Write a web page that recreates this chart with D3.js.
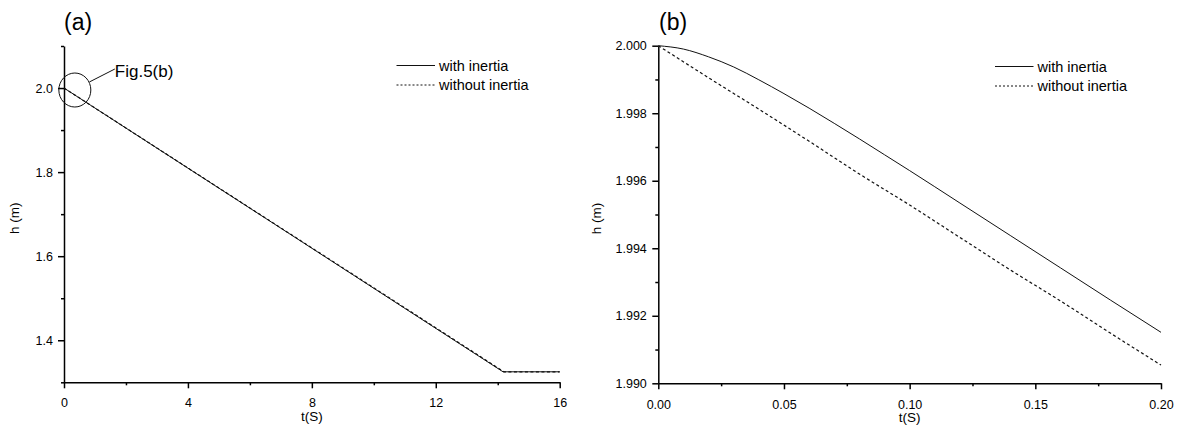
<!DOCTYPE html>
<html>
<head>
<meta charset="utf-8">
<script src="https://cdn.jsdelivr.net/npm/d3@7"></script>
<style>
  html, body { margin: 0; padding: 0; background: #fff; }
  svg { display: block; font-family: "Liberation Sans", Arial, sans-serif; }
  .domain { stroke: #000; stroke-width: 1.5; }
  .tick line { stroke: #000; stroke-width: 1.5; }
  .tick text { font-size: 12.5px; fill: #000; }
</style>
</head>
<body>
<svg id="chart" width="1179" height="433"></svg>
<script>
// Panel (a): water level over the full 16 s run
const tA = [0, 14.17, 16];
const hA_with = [2.0, 1.325, 1.325];
const tA2 = [0, 14.2, 16];
const hA_without = [2.0, 1.325, 1.325];

// Panel (b): first 0.2 s, close-up of the start
const tB_with = [0, 0.01, 0.02, 0.03, 0.04, 0.05, 0.06, 0.07, 0.08, 0.09, 0.10, 0.12, 0.14, 0.16, 0.18, 0.20];
const hB_with = [2.0000, 1.99990, 1.99967, 1.99937, 1.99899, 1.99858, 1.99815, 1.99770, 1.99724, 1.99677, 1.99630, 1.99534, 1.99438, 1.99342, 1.99246, 1.99151];
const tB_without = [0, 0.02, 0.04, 0.06, 0.08, 0.10, 0.12, 0.14, 0.16, 0.18, 0.20];
const hB_without = [2.0000, 1.99905, 1.99812, 1.99717, 1.99620, 1.99528, 1.99432, 1.99336, 1.99244, 1.99148, 1.99054];

// Axis ticks
const xTicksA = [0, 4, 8, 12, 16];
const xMinorA = [2, 6, 10, 14];
const yTicksA = [1.4, 1.6, 1.8, 2.0];
const yMinorA = [1.3, 1.5, 1.7, 1.9, 2.1];
const xTicksB = [0, 0.05, 0.10, 0.15, 0.20];
const xMinorB = [0.025, 0.075, 0.125, 0.175];
const yTicksB = [1.990, 1.992, 1.994, 1.996, 1.998, 2.000];
const yMinorB = [1.991, 1.993, 1.995, 1.997, 1.999];

const seriesNames = ["with inertia", "without inertia"];

const svg = d3.select("#chart");

function zip(xs, ys) { return xs.map((x, i) => [x, ys[i]]); }

function panel(opt) {
  const g = svg.append("g");
  const x = d3.scaleLinear().domain(opt.xDomain).range(opt.xRange);
  const y = d3.scaleLinear().domain(opt.yDomain).range(opt.yRange);
  const x0 = opt.xRange[0], y0 = opt.yRange[0];

  // minor ticks first, then major axes
  g.append("g").attr("transform", `translate(0,${y0})`)
    .call(d3.axisBottom(x).tickValues(opt.xMinor).tickSize(3).tickFormat(""))
    .call(s => s.select(".domain").remove());
  g.append("g").attr("transform", `translate(${x0},0)`)
    .call(d3.axisLeft(y).tickValues(opt.yMinor).tickSize(3).tickFormat(""))
    .call(s => s.select(".domain").remove());

  g.append("g").attr("transform", `translate(0,${y0})`)
    .call(d3.axisBottom(x).tickValues(opt.xTicks).tickSize(6).tickSizeOuter(0)
      .tickPadding(opt.xPad).tickFormat(opt.xFmt));
  g.append("g").attr("transform", `translate(${x0},0)`)
    .call(d3.axisLeft(y).tickValues(opt.yTicks).tickSize(6).tickSizeOuter(0)
      .tickPadding(opt.yPad).tickFormat(opt.yFmt));

  const line = d3.line().x(d => x(d[0])).y(d => y(d[1])).curve(opt.curve || d3.curveLinear);
  g.append("path").datum(opt.solid).attr("d", line)
    .attr("fill", "none").attr("stroke", "#111").attr("stroke-width", 1);
  g.append("path").datum(opt.dashed).attr("d", line)
    .attr("fill", "none").attr("stroke", "#111").attr("stroke-width", 1.2)
    .attr("stroke-dasharray", "3,2.5");

  // axis titles
  g.append("text").attr("x", (opt.xRange[0] + opt.xRange[1]) / 2).attr("y", opt.xLabelY)
    .attr("text-anchor", "middle").attr("font-size", 13.5).text("t(S)");
  g.append("text")
    .attr("transform", `translate(${opt.yLabelX},${(opt.yRange[0] + opt.yRange[1]) / 2 + 4}) rotate(-90)`)
    .attr("text-anchor", "middle").attr("font-size", 13.5).text("h (m)");

  // panel letter
  g.append("text").attr("x", opt.titleX).attr("y", 29.5).attr("font-size", 23).text(opt.title);

  // legend
  const lg = g.append("g");
  seriesNames.forEach((name, i) => {
    const ly = opt.legendY + i * 19.5;
    lg.append("line").attr("x1", opt.legendX).attr("x2", opt.legendX + 38.5)
      .attr("y1", ly).attr("y2", ly).attr("stroke", "#111").attr("stroke-width", 1)
      .attr("stroke-dasharray", i === 0 ? null : "2,2");
    lg.append("text").attr("x", opt.legendX + 42.5).attr("y", ly + 5)
      .attr("font-size", 14.5).text(name);
  });
  return { x, y, g };
}

const pa = panel({
  xDomain: [0, 16], xRange: [64, 559.7],
  yDomain: [1.3, 2.1], yRange: [382.3, 46],
  xTicks: xTicksA, xMinor: xMinorA, yTicks: yTicksA, yMinor: yMinorA,
  xFmt: d3.format("d"), yFmt: d3.format(".1f"),
  xPad: 9.5, yPad: 5,
  solid: zip(tA, hA_with), dashed: zip(tA2, hA_without),
  xLabelY: 421, yLabelX: 19,
  title: "(a)", titleX: 64,
  legendX: 396.5, legendY: 65.5
});

const pb = panel({
  xDomain: [0, 0.2], xRange: [658.3, 1161],
  yDomain: [1.990, 2.000], yRange: [383.3, 45.7],
  xTicks: xTicksB, xMinor: xMinorB, yTicks: yTicksB, yMinor: yMinorB,
  xFmt: d3.format(".2f"), yFmt: d3.format(".3f"),
  xPad: 10.5, yPad: 5.5,
  solid: zip(tB_with, hB_with), dashed: zip(tB_without, hB_without),
  curve: d3.curveMonotoneX,
  xLabelY: 422, yLabelX: 601,
  title: "(b)", titleX: 659,
  legendX: 995, legendY: 66.5
});

// callout in (a) marking the region enlarged in (b)
const cx = pa.x(0.35), cy = pa.y(1.9953);
pa.g.append("ellipse").attr("cx", cx).attr("cy", cy).attr("rx", 16).attr("ry", 17)
  .attr("fill", "none").attr("stroke", "#111").attr("stroke-width", 1);
pa.g.append("line").attr("x1", cx + 14.5).attr("y1", cy - 8).attr("x2", cx + 40).attr("y2", cy - 21)
  .attr("stroke", "#111").attr("stroke-width", 1);
pa.g.append("text").attr("x", cx + 40).attr("y", cy - 13).attr("font-size", 17).text("Fig.5(b)");
</script>
</body>
</html>
